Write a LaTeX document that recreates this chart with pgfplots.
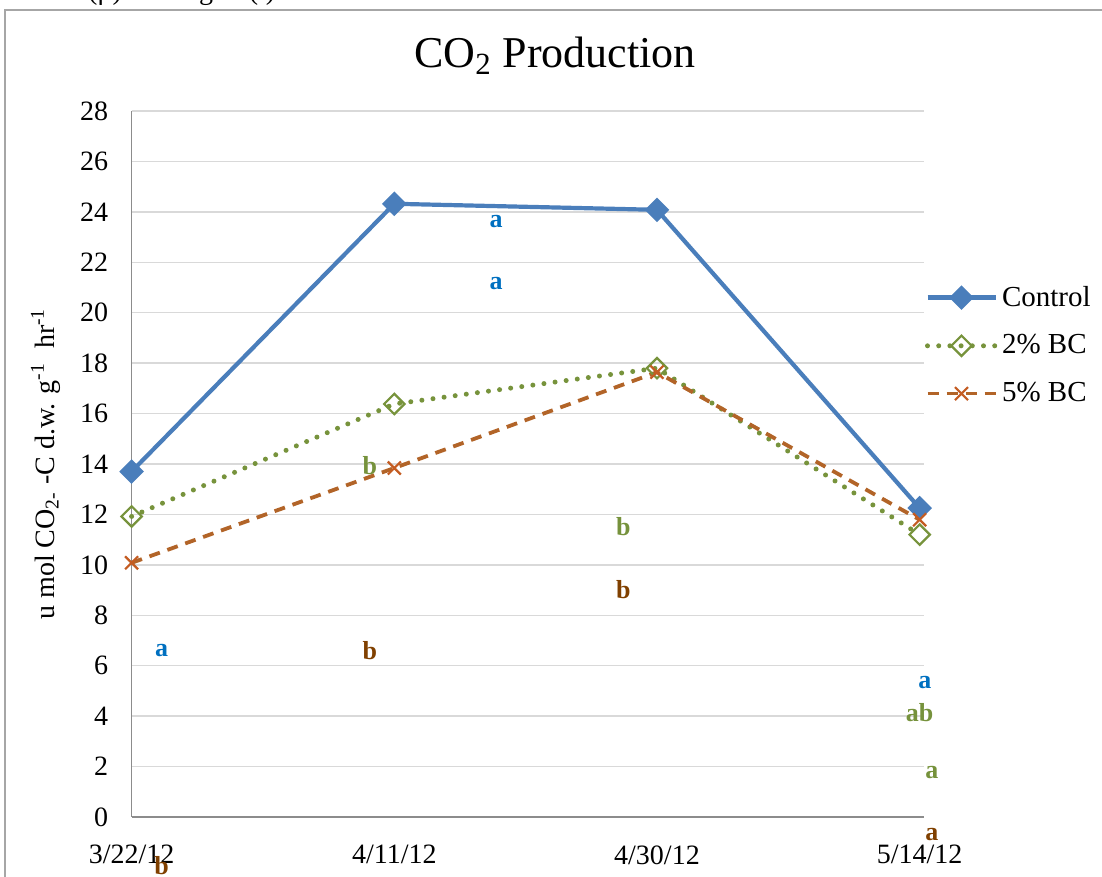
\documentclass[border=0pt]{standalone}
\usepackage{fontspec}
\setmainfont{Liberation Serif}
\usepackage{pgfplots}
\pgfplotsset{compat=1.18}

\definecolor{ctrl}{RGB}{74,126,187}
\definecolor{grn}{RGB}{119,147,60}
\definecolor{brn}{RGB}{178,100,40}
\definecolor{xmk}{RGB}{196,92,34}
\definecolor{lblue}{RGB}{0,112,192}
\definecolor{lgreen}{RGB}{118,146,60}
\definecolor{lbrown}{RGB}{128,64,0}
\definecolor{gridc}{RGB}{217,217,217}
\definecolor{axisc}{RGB}{140,140,140}

\newcommand{\lt}[1]{\fontsize{13}{15}\selectfont\bfseries #1}

\begin{document}
\begin{tikzpicture}
% page = 1102 x 877 px at 0.5pt per px
\path[use as bounding box] (0,0) rectangle (551pt,438.5pt);
% outer chart frame (runs off the right and bottom edges)
\draw[draw=gray!70, line width=1pt] (2.5pt,-10pt) -- (2.5pt,433.5pt) -- (570pt,433.5pt);
% caption line cut off at the top edge
\begin{scope}[font=\fontsize{14}{16}\selectfont]
\node[anchor=base, inner sep=0pt] at (52.5pt,438.5pt) {(μ)};
\node[anchor=base, inner sep=0pt] at (103pt,438.5pt) {g};
\node[anchor=base, inner sep=0pt] at (131pt,438.5pt) {(l)};
\end{scope}
% title
\node[anchor=base, inner sep=0pt, font=\fontsize{22}{26}\selectfont] at (277.5pt,404.5pt)
  {CO\textsubscript{2} Production};

\begin{axis}[
    at={(65.8pt,30pt)}, anchor=south west,
    scale only axis,
    width=396pt, height=353pt,
    xmin=0, xmax=3.015,
    ymin=0, ymax=28,
    xtick={0,1,2,3},
    xticklabels={3/22/12,4/11/12,4/30/12,5/14/12},
    ytick={0,2,...,28},
    /pgf/number format/assume math mode=true,
    tick label style={font=\fontsize{14}{16}\selectfont},
    yticklabel style={inner sep=0pt, anchor=east, xshift=-11.5pt},
    xticklabel style={inner sep=0pt, anchor=north, yshift=-14pt},
    major tick length=0pt,
    axis lines=left,
    axis line style={-, draw=axisc, line width=0.8pt},
    ymajorgrids,
    grid style={draw=gridc, line width=0.75pt},
    ylabel={u mol CO\textsubscript{2-} -C d.w. g\textsuperscript{-1}\ \ hr\textsuperscript{-1}},
    ylabel style={at={(axis description cs:-0.1085,0.5)}, anchor=center,
                  font=\fontsize{14}{16}\selectfont},
    legend style={at={(axis description cs:1,0.668)}, anchor=west, xshift=-2.5pt,
                  draw=none, fill=none, row sep=8.75pt,
                  font=\fontsize{14.5}{16}\selectfont},
    legend cell align=left,
    legend image code/.code={%
        \draw[mark repeat=2, mark phase=2, #1]
          plot coordinates {(0pt,0pt) (17pt,0pt) (34pt,0pt)};},
    clip=false,
]

\addplot[ctrl, line width=2.1pt, mark=square*,
         mark options={rotate=45, solid, fill=ctrl, draw=ctrl}, mark size=3.3pt]
  coordinates {(0,13.70) (1,24.32) (2,24.08) (3,12.25)};

\addplot[grn, line width=2.5pt, line cap=round, dash pattern=on 0pt off 5.6pt,
         mark=square, mark size=3.6pt,
         mark options={rotate=45, solid, fill=white, draw=grn, line width=1.1pt}]
  coordinates {(0,11.92) (1,16.38) (2,17.80) (3,11.20)};

\addplot[brn, line width=1.9pt, dash pattern=on 5.5pt off 4pt,
         mark=x, mark size=4.6pt,
         mark options={solid, draw=xmk, line width=1.1pt}]
  coordinates {(0,10.08) (1,13.84) (2,17.64) (3,11.79)};

\legend{Control, 2\% BC, 5\% BC}

% significance letters
\node[text=lblue]  at (axis cs:1.388,23.61) {\lt{a}};
\node[text=lblue]  at (axis cs:1.388,21.15) {\lt{a}};
\node[text=lgreen] at (axis cs:0.907,13.93) {\lt{b}};
\node[text=lgreen] at (axis cs:1.872,11.51) {\lt{b}};
\node[text=lbrown] at (axis cs:1.872,9.01)  {\lt{b}};
\node[text=lblue]  at (axis cs:0.114,6.59)  {\lt{a}};
\node[text=lbrown] at (axis cs:0.907,6.59)  {\lt{b}};
\node[text=lblue]  at (axis cs:3.02,5.32)   {\lt{a}};
\node[text=lgreen] at (axis cs:3.0,4.13)    {\lt{ab}};
\node[text=lgreen] at (axis cs:3.046,1.75)  {\lt{a}};
\node[text=lbrown] at (axis cs:3.046,-0.71) {\lt{a}};
\node[text=lbrown] at (axis cs:0.114,-1.94) {\lt{b}};

\end{axis}
\end{tikzpicture}
\end{document}
